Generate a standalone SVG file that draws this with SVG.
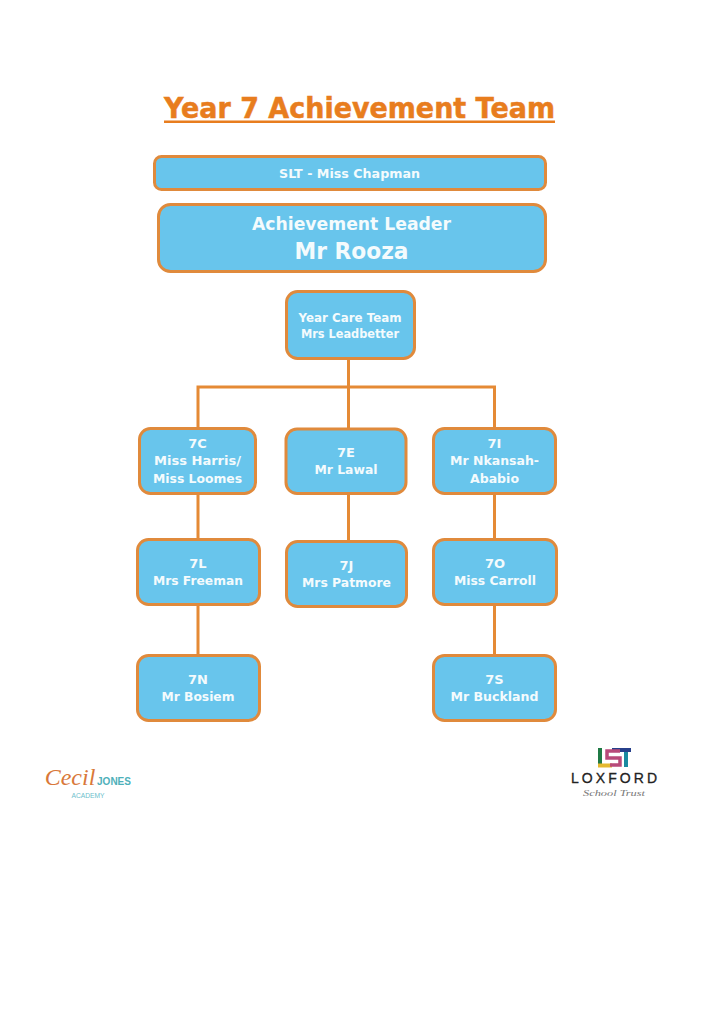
<svg xmlns="http://www.w3.org/2000/svg" width="724" height="1024" viewBox="0 0 724 1024">
<style>
text{font-family:"DejaVu Sans",Verdana,sans-serif;font-weight:700;text-anchor:middle}
.b{fill:#68c5ec;stroke:#e08a3c;stroke-width:3}
.t{fill:#f4fbfd;font-size:13px}
.c{fill:none;stroke:#e58a35;stroke-width:3}
</style>
<rect width="724" height="1024" fill="#fff"/>
<g id="title"><text x="359.500" y="118" font-size="27.500" fill="#e87d1e" stroke="#e87d1e" stroke-width="0.5" textLength="391" lengthAdjust="spacingAndGlyphs">Year 7 Achievement Team</text><rect x="164" y="120.500" width="391" height="2.500" fill="#e87d1e"/></g>
<g id="connectors">
<path class="c" d="M348.500 359V428M198 428V387H494.500V428M198 494V539M198 605V655M348.500 494V541M494.500 494V539M494.500 605V655"/>
</g>
<g id="slt"><rect class="b" x="154.500" y="156.500" width="391" height="33" rx="7"/><text class="t" x="349.500" y="178" textLength="141" lengthAdjust="spacingAndGlyphs">SLT - Miss Chapman</text></g>
<g id="leader"><rect class="b" x="158.500" y="204.500" width="387" height="67" rx="12"/><text class="t" x="351.500" y="230" style="font-size:18px" textLength="199" lengthAdjust="spacingAndGlyphs">Achievement Leader</text><text class="t" x="351.500" y="259" style="font-size:23px" textLength="114" lengthAdjust="spacingAndGlyphs">Mr Rooza</text></g>
<g id="care"><rect class="b" x="286.500" y="291.500" width="128" height="67" rx="11"/><text class="t" x="350" y="322" textLength="103" lengthAdjust="spacingAndGlyphs" style="font-size:12px">Year Care Team</text><text class="t" x="350" y="338" textLength="98" lengthAdjust="spacingAndGlyphs" style="font-size:12px">Mrs Leadbetter</text></g>
<g id="n7c"><rect class="b" x="139.500" y="428.500" width="116" height="65" rx="11"/><text class="t" x="197.500" y="448">7C</text><text class="t" x="197.500" y="465" textLength="87" lengthAdjust="spacingAndGlyphs">Miss Harris/</text><text class="t" x="197.500" y="483" textLength="89" lengthAdjust="spacingAndGlyphs">Miss Loomes</text></g>
<g id="n7e"><rect class="b" x="286" y="429" width="120" height="64.500" rx="11"/><text class="t" x="346" y="457">7E</text><text class="t" x="346" y="474" textLength="63" lengthAdjust="spacingAndGlyphs">Mr Lawal</text></g>
<g id="n7i"><rect class="b" x="433.500" y="428.500" width="122" height="65" rx="11"/><text class="t" x="494.500" y="448">7I</text><text class="t" x="494.500" y="465" textLength="89" lengthAdjust="spacingAndGlyphs">Mr Nkansah-</text><text class="t" x="494.500" y="483" textLength="49" lengthAdjust="spacingAndGlyphs">Ababio</text></g>
<g id="n7l"><rect class="b" x="137.500" y="539.500" width="122" height="65" rx="11"/><text class="t" x="198" y="568">7L</text><text class="t" x="198" y="585" textLength="90" lengthAdjust="spacingAndGlyphs">Mrs Freeman</text></g>
<g id="n7j"><rect class="b" x="286.500" y="541.500" width="120" height="65" rx="11"/><text class="t" x="346.500" y="570">7J</text><text class="t" x="346.500" y="587" textLength="89" lengthAdjust="spacingAndGlyphs">Mrs Patmore</text></g>
<g id="n7o"><rect class="b" x="433.500" y="539.500" width="123" height="65" rx="11"/><text class="t" x="495" y="568">7O</text><text class="t" x="495" y="585" textLength="82" lengthAdjust="spacingAndGlyphs">Miss Carroll</text></g>
<g id="n7n"><rect class="b" x="137.500" y="655.500" width="122" height="65" rx="11"/><text class="t" x="198" y="684">7N</text><text class="t" x="198" y="701" textLength="73" lengthAdjust="spacingAndGlyphs">Mr Bosiem</text></g>
<g id="n7s"><rect class="b" x="433.500" y="655.500" width="122" height="65" rx="11"/><text class="t" x="494.500" y="684">7S</text><text class="t" x="494.500" y="701" textLength="88" lengthAdjust="spacingAndGlyphs">Mr Buckland</text></g>
<g id="logo-cecil">
<text x="70" y="785" style="font-family:'Liberation Serif',serif;font-style:italic;font-weight:400" font-size="24" fill="#d9783a">Cecil</text>
<text x="114" y="785" style="font-family:'Liberation Sans',sans-serif" font-size="10" fill="#4eb0ba">JONES</text>
<text x="88" y="797.500" style="font-family:'Liberation Sans',sans-serif;font-weight:400" font-size="6.500" fill="#6cc0cc" textLength="33" lengthAdjust="spacingAndGlyphs">ACADEMY</text>
</g>
<g id="logo-loxford" fill="none" stroke-width="4">
<path d="M600 748V765" stroke="#1f7a45"/><path d="M598 765.500H612" stroke="#e4b92f"/><path d="M612 750H631" stroke="#27408b"/><path d="M626 752V767" stroke="#1a8aa0"/>
<path d="M620 751H607V758H620V765H610" stroke="#b84a7a" stroke-width="3.500"/>
<text x="614" y="783" style="font-family:'Liberation Sans',sans-serif;font-weight:400" font-size="14" fill="#222" stroke="#222" stroke-width="0.3" textLength="86" lengthAdjust="spacing">LOXFORD</text>
<text x="614" y="796" style="font-family:'Liberation Serif',serif;font-style:italic;font-weight:400" font-size="9" fill="#777" stroke="none" textLength="62" lengthAdjust="spacingAndGlyphs">School Trust</text>
</g>
</svg>
